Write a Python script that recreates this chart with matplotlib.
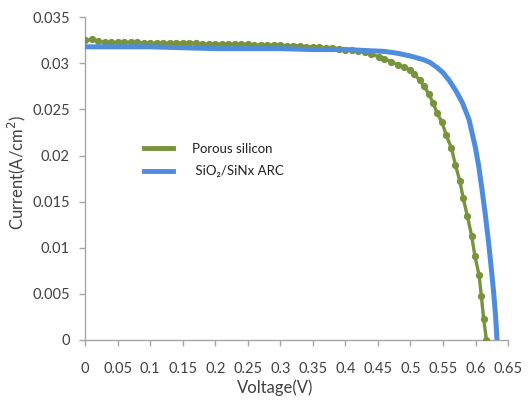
import matplotlib
matplotlib.use('Agg')
import matplotlib.pyplot as plt

plt.rcParams['font.family'] = ['Lato', 'DejaVu Sans']

# Porous silicon I-V curve
v_porous = [0.00, 0.01, 0.02, 0.03, 0.04, 0.05, 0.06, 0.07, 0.08, 0.09,
            0.10, 0.11, 0.12, 0.13, 0.14, 0.15, 0.16, 0.17, 0.18, 0.19,
            0.20, 0.21, 0.22, 0.23, 0.24, 0.25, 0.26, 0.27, 0.28, 0.29,
            0.30, 0.31, 0.32, 0.33, 0.34, 0.35, 0.36, 0.37, 0.38, 0.39,
            0.40, 0.41, 0.42, 0.43, 0.44, 0.452, 0.460, 0.470, 0.481, 0.490,
            0.499, 0.506, 0.514, 0.521, 0.528, 0.535, 0.541, 0.5485, 0.555, 0.563,
            0.569, 0.576, 0.581, 0.5875, 0.594, 0.599, 0.6055, 0.609, 0.6126, 0.6167]
i_porous = [0.0325, 0.0326, 0.0324, 0.0323, 0.0323, 0.0323, 0.0323, 0.0323, 0.0323, 0.0322,
            0.0322, 0.0322, 0.0322, 0.0322, 0.0322, 0.0322, 0.0322, 0.0322, 0.0321, 0.0321,
            0.0321, 0.0321, 0.0321, 0.0321, 0.0321, 0.0321, 0.0320, 0.0320, 0.0320, 0.0320,
            0.0320, 0.0319, 0.0319, 0.0319, 0.0318, 0.0318, 0.0318, 0.0317, 0.0317, 0.0316,
            0.0315, 0.0314, 0.0313, 0.0312, 0.0310, 0.0307, 0.0305, 0.0302, 0.0298, 0.0296,
            0.0293, 0.0288, 0.0282, 0.0275, 0.0267, 0.0257, 0.0246, 0.0236, 0.0222, 0.0208,
            0.0190, 0.0172, 0.0154, 0.0134, 0.0113, 0.0091, 0.0070, 0.0047, 0.0022, 0.0]

# SiO2/SiNx ARC I-V curve
v_arc = [0.00, 0.05, 0.10, 0.15, 0.20, 0.25, 0.30, 0.35, 0.40, 0.43,
         0.46, 0.48, 0.50, 0.51, 0.52, 0.53, 0.54, 0.55, 0.56, 0.57,
         0.58, 0.59, 0.60, 0.605, 0.61, 0.615, 0.62, 0.625, 0.628, 0.631, 0.633]
i_arc = [0.0318, 0.0318, 0.0318, 0.0317, 0.0316, 0.0316, 0.0316, 0.0315, 0.0315, 0.0314,
         0.0313, 0.0311, 0.0308, 0.0306, 0.0304, 0.0301, 0.0296, 0.0290, 0.0281, 0.0270,
         0.0257, 0.0239, 0.0208, 0.0188, 0.0163, 0.0136, 0.0106, 0.0072, 0.0050, 0.0024, 0.0]

x_ticks = [0, 0.05, 0.1, 0.15, 0.2, 0.25, 0.3, 0.35, 0.4, 0.45, 0.5, 0.55, 0.6, 0.65]
y_ticks = [0, 0.005, 0.01, 0.015, 0.02, 0.025, 0.03, 0.035]

green = '#77933C'
blue = '#4F8CDB'
grey = '#A6A6A6'
txt = '#404040'

fig = plt.figure(figsize=(5.32, 4.03), dpi=100)
ax = fig.add_axes([0.16, 0.157, 0.795, 0.8])

ax.plot(v_porous, i_porous, color=green, lw=2.4, marker='o', ms=4.2,
        label='Porous silicon', zorder=3)
ax.plot(v_arc, i_arc, color=blue, lw=3.6, label=' SiO\u2082/SiNx ARC', zorder=4)

ax.set_xlim(0, 0.65)
ax.set_ylim(0, 0.035)
ax.set_xticks(x_ticks)
ax.set_xticklabels([f'{t:g}' for t in x_ticks])
ax.set_yticks(y_ticks)
ax.set_yticklabels([f'{t:g}' for t in y_ticks])

for s in ['top', 'right']:
    ax.spines[s].set_visible(False)
for s in ['left', 'bottom']:
    ax.spines[s].set_color(grey)
    ax.spines[s].set_linewidth(1.0)

ax.tick_params(axis='both', colors=grey, labelcolor=txt, labelsize=10.5,
               direction='out', length=4, width=1.0)
ax.tick_params(axis='x', pad=12)
ax.tick_params(axis='y', pad=7)

ax.set_xlabel('Voltage(V)', fontsize=12, color=txt)
ax.xaxis.set_label_coords(0.45, -0.122)
ax.set_ylabel('Current(A/cm$^2$)', fontsize=12, color=txt)
ax.yaxis.set_label_coords(-0.135, 0.52)

leg = ax.legend(loc='upper left', bbox_to_anchor=(0.11, 0.648), frameon=False,
                fontsize=9.5, handlelength=2.2, handletextpad=1.5, labelspacing=0.8)
for h in leg.get_lines():
    h.set_marker('')
    h.set_linewidth(3.5)
for t in leg.get_texts():
    t.set_color('#202020')

fig.savefig('out.png', dpi=100)
